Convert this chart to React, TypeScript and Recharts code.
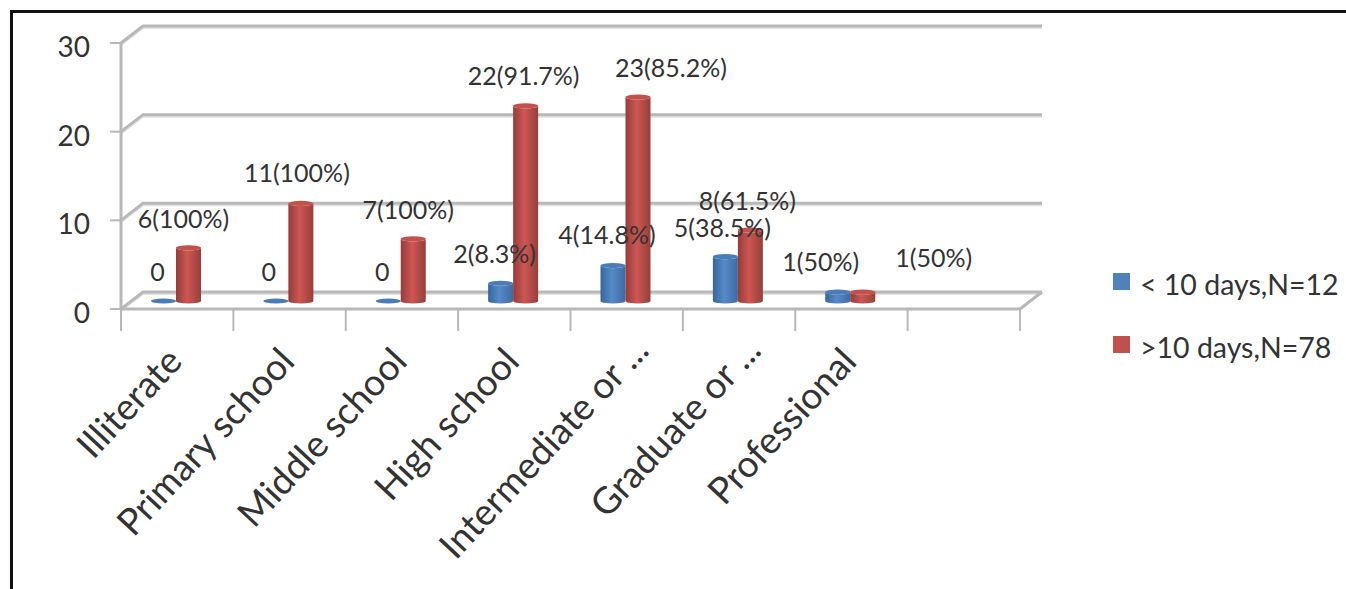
import { Bar, BarChart, CartesianGrid, LabelList, Legend, XAxis, YAxis } from "recharts";

const categories = [
  "Illiterate",
  "Primary school",
  "Middle school",
  "High school",
  "Intermediate or ...",
  "Graduate or ...",
  "Professional",
  "",
];
const shortStay = [0, 0, 0, 2, 4, 5, 1, null];
const longStay = [6, 11, 7, 22, 23, 8, 1, null];
const shortShare = [null, null, null, "8.3", "14.8", "38.5", "50", null];
const longShare = ["100", "100", "100", "91.7", "85.2", "61.5", "50", null];
const yTicks = [0, 10, 20, 30];

const data = categories.map((name, i) => ({
  name,
  shortStay: shortStay[i],
  longStay: longStay[i],
}));

const FONT = "Lato, sans-serif";
const TEXT = "#333";
const WALL = "#b8b8b8";
const DEPTH_X = 22;
const DEPTH_Y = 17;
const BAR_LIFT = 8;

// hand placed label shifts, [dx, dy] from the top centre of each bar
const shortNudge = [[-7, -38], [-8, -38], [-7, -38], [-7, -38], [-7, -40], [-4, -38], [-18, -39]];
const longNudge = [[-6, -38], [-5, -39], [-6, -38], [-3, -39], [32, -38], [-4, -38], [70, -43]];

const wallLine = (props: any) => {
  const { x1, x2, y1, key } = props;
  const points = `${x1},${y1} ${x1 + DEPTH_X},${y1 - DEPTH_Y} ${x2 + DEPTH_X},${y1 - DEPTH_Y}`;
  const isFloor = Math.abs(y1 - 309) < 1;
  return (
    <g key={key}>
      <polyline points={points} fill="none" stroke="#e2e2e2" strokeWidth={2} transform="translate(0,2)" />
      <polyline points={points} fill="none" stroke={WALL} strokeWidth={3} />
      {isFloor && <line x1={x2} y1={y1} x2={x2 + DEPTH_X} y2={y1 - DEPTH_Y} stroke={WALL} strokeWidth={3} />}
    </g>
  );
};

const Cylinder = (props: any) => {
  const { y, width, height, gradient, top, dataKey, payload } = props;
  if (payload[dataKey] == null) return null;
  const x = props.x - 1;
  const ry = 2.6;
  const rx = width / 2;
  const y0 = y - BAR_LIFT;
  const y1 = y + height - BAR_LIFT;
  return (
    <g>
      <path
        d={`M${x},${y0} L${x},${y1} A${rx},${ry} 0 0 0 ${x + width},${y1} L${x + width},${y0} A${rx},${ry} 0 0 1 ${x},${y0} Z`}
        fill={`url(#${gradient})`}
      />
      <ellipse cx={x + rx} cy={y0} rx={rx} ry={ry} fill={top} />
    </g>
  );
};

const CategoryTick = (props: any) => {
  const { x, y, payload, index, visibleTicksCount } = props;
  const step = 899 / 8;
  const left = x - step / 2;
  const last = index === (visibleTicksCount ?? 8) - 1;
  // the dots of a cut-off name sit further up the slant
  const cut = payload.value.endsWith("...");
  const tx = x + (cut ? 24 : 7);
  const ty = y + (cut ? 35 : 46);
  return (
    <g>
      <line x1={left} y1={y - 8} x2={left} y2={y + 14} stroke={WALL} strokeWidth={2} />
      {last && <line x1={left + step} y1={y - 8} x2={left + step} y2={y + 14} stroke={WALL} strokeWidth={2} />}
      <text
        x={tx}
        y={ty}
        transform={`rotate(-47 ${tx} ${ty})`}
        textAnchor="end"
        fontFamily={FONT}
        fontSize={37}
        fill={TEXT}
      >
        {payload.value}
      </text>
    </g>
  );
};

const barLabel = (values: any[], share: any[], nudge: number[][]) => (props: any) => {
  const { x, y, width, index } = props;
  if (values[index] == null) return null;
  const [dx, dy] = nudge[index];
  const text = share[index] == null ? `${values[index]}` : `${values[index]}(${share[index]}%)`;
  return (
    <text
      x={x + width / 2 + dx}
      y={y + dy}
      textAnchor="middle"
      dominantBaseline="central"
      fontFamily={FONT}
      fontSize={25}
      fill={TEXT}
    >
      {text}
    </text>
  );
};

const LegendList = ({ payload }: any) => (
  <div>
    {payload.map((entry: any) => (
      <div key={entry.value} style={{ display: "flex", alignItems: "center", height: 63 }}>
        <span style={{ width: 17, height: 17, background: entry.color, marginRight: 10 }} />
        <span style={{ fontFamily: FONT, fontSize: 28.5, color: TEXT, whiteSpace: "nowrap", position: "relative", top: 2 }}>
          {entry.value}
        </span>
      </div>
    ))}
  </div>
);

export default function App() {
  return (
    <div style={{ position: "absolute", left: 0, top: 0, width: 1346, height: 589, overflow: "hidden", background: "#fff" }}>
      <div
        style={{
          position: "absolute",
          left: 10,
          top: 10,
          width: 1400,
          height: 640,
          border: "3px solid #111",
          boxSizing: "border-box",
        }}
      />
      <div style={{ position: "absolute", left: 0, top: 0 }}>
        <BarChart
          width={1346}
          height={589}
          data={data}
          barSize={25}
          barGap={0}
          margin={{ top: 43, right: 93, bottom: 0, left: 0 }}
        >
          <defs>
            <linearGradient id="blueBody" x1="0" x2="1" y1="0" y2="0">
              <stop offset="0" stopColor="#38659a" />
              <stop offset="0.45" stopColor="#568ac8" />
              <stop offset="1" stopColor="#3c6ba3" />
            </linearGradient>
            <linearGradient id="redBody" x1="0" x2="1" y1="0" y2="0">
              <stop offset="0" stopColor="#953c39" />
              <stop offset="0.45" stopColor="#cd5753" />
              <stop offset="1" stopColor="#973e3b" />
            </linearGradient>
          </defs>
          <CartesianGrid vertical={false} horizontal={wallLine} />
          <XAxis
            dataKey="name"
            interval={0}
            height={280}
            axisLine={{ stroke: WALL, strokeWidth: 3 }}
            tickLine={false}
            tick={<CategoryTick />}
          />
          <YAxis
            width={121}
            domain={[0, 30]}
            ticks={yTicks}
            interval={0}
            axisLine={{ stroke: WALL, strokeWidth: 3 }}
            tickLine={{ stroke: WALL, strokeWidth: 2 }}
            tickSize={11}
            tickMargin={20}
            tick={{ fontFamily: FONT, fontSize: 28, fill: TEXT, dy: 4 }}
          />
          <Legend
            layout="vertical"
            align="right"
            verticalAlign="middle"
            content={<LegendList />}
            wrapperStyle={{ position: "absolute", left: 1113, right: "auto", top: 250, bottom: "auto", width: 233 }}
          />
          <Bar
            dataKey="shortStay"
            name="< 10 days,N=12"
            fill="#4f81bd"
            isAnimationActive={false}
            shape={(p: any) => <Cylinder {...p} dataKey="shortStay" gradient="blueBody" top="#4a7cb8" />}
          >
            <LabelList content={barLabel(shortStay, shortShare, shortNudge)} />
          </Bar>
          <Bar
            dataKey="longStay"
            name=">10 days,N=78"
            fill="#c0504d"
            isAnimationActive={false}
            shape={(p: any) => <Cylinder {...p} dataKey="longStay" gradient="redBody" top="#c4504c" />}
          >
            <LabelList content={barLabel(longStay, longShare, longNudge)} />
          </Bar>
        </BarChart>
      </div>
    </div>
  );
}
